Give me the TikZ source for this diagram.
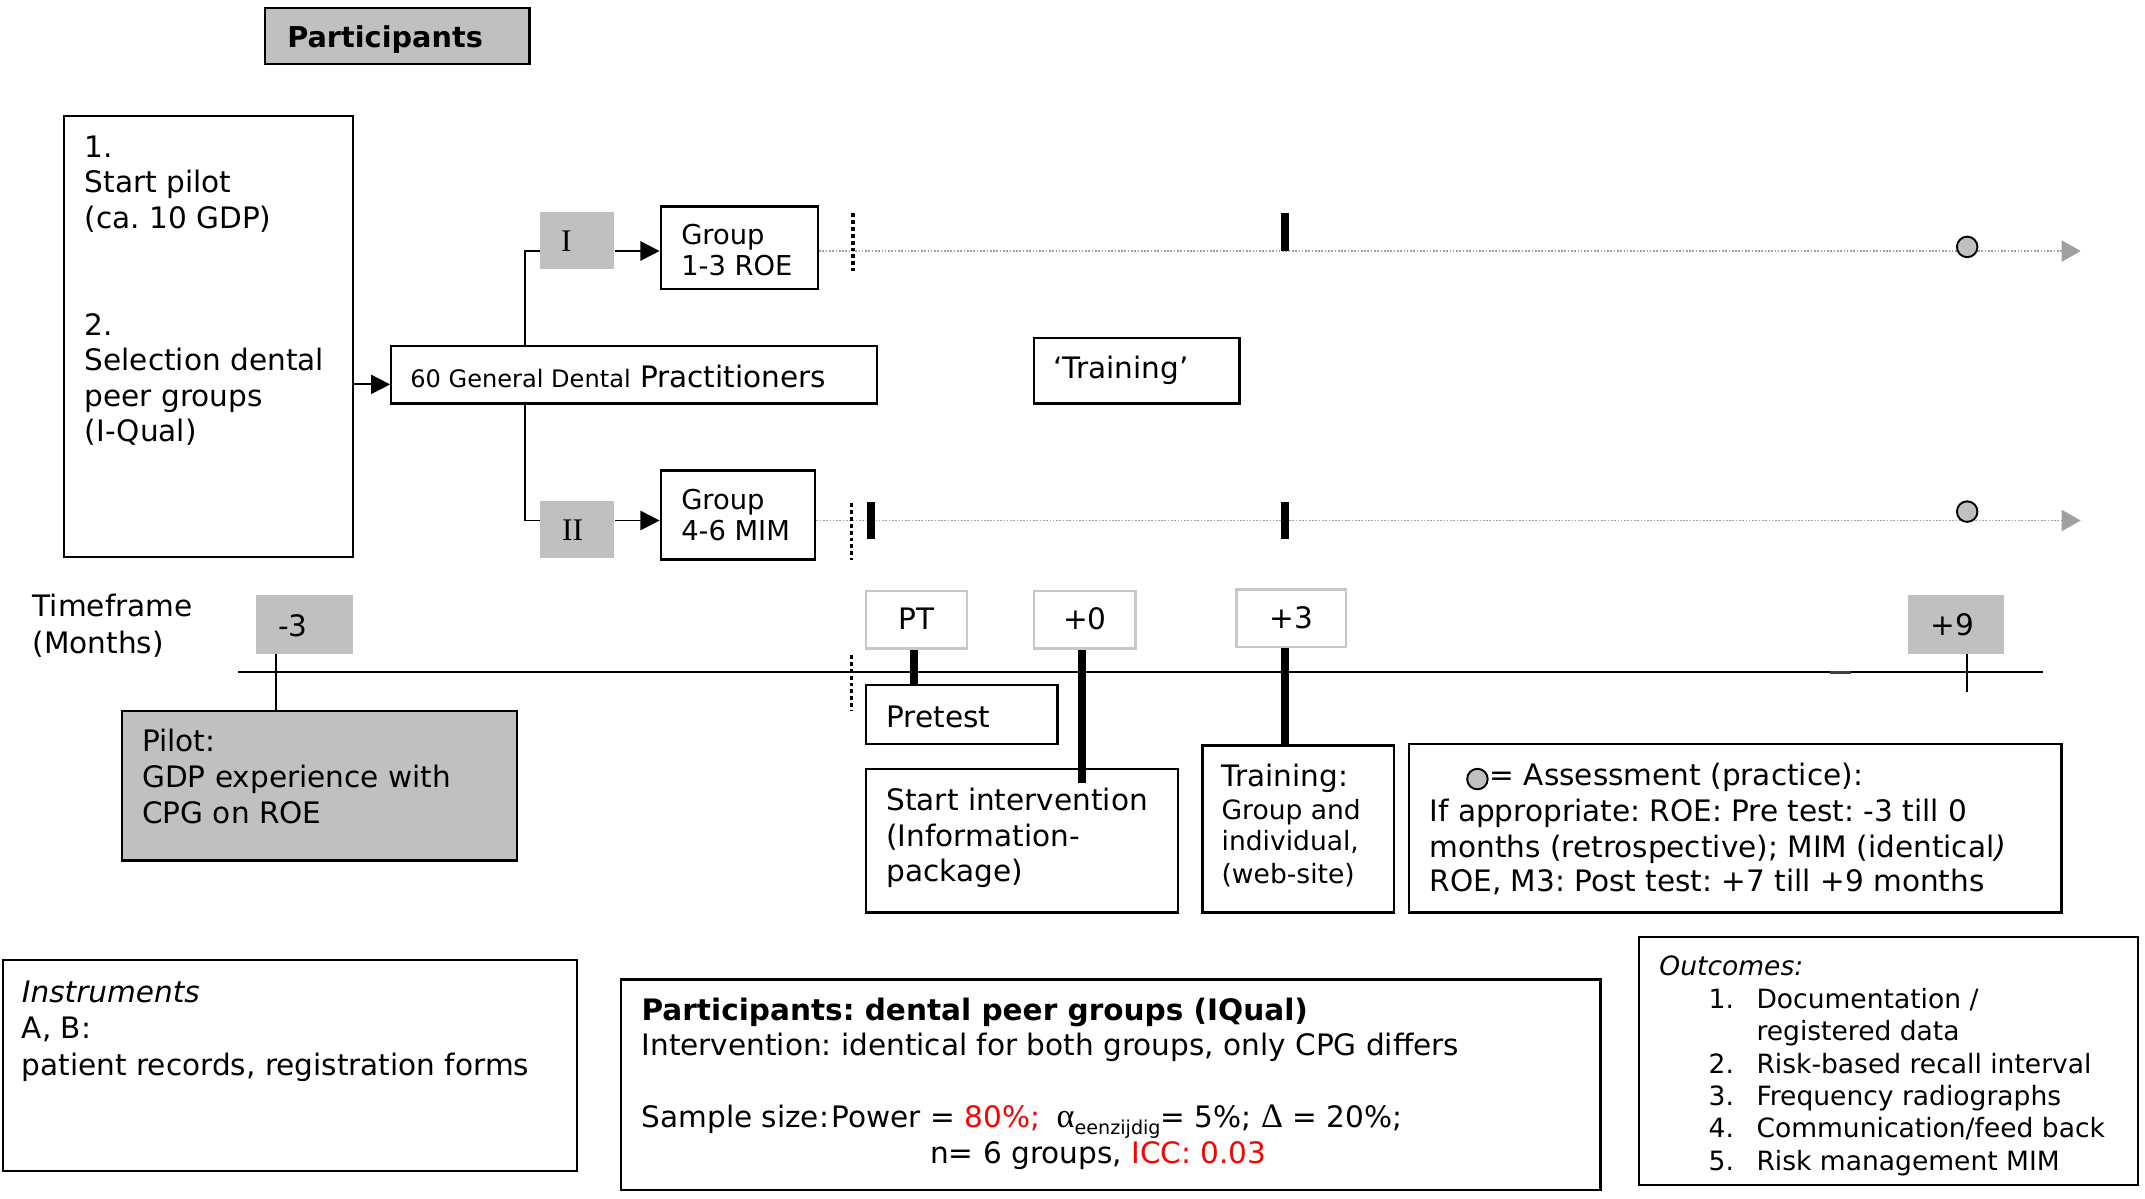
\documentclass[tikz,border=0pt]{standalone}
\usepackage{fontspec}
\setmainfont{DejaVu Sans}
\newfontfamily\serifgr{Liberation Serif}
\usetikzlibrary{arrows.meta}
\definecolor{silver}{HTML}{C0C0C0}
\definecolor{lightbd}{HTML}{C8C8C8}
\definecolor{trackgray}{HTML}{A0A0A0}
\frenchspacing
\newcommand\fL{\fontsize{10.8}{13}\selectfont}
\newcommand\fS{\fontsize{9.7}{11.8}\selectfont}
\newcommand\fG{\fontsize{10}{11.5}\selectfont}
\newcommand\fT{\fontsize{8.8}{10.5}\selectfont}
\newcommand\mkbox[6]{%
  \pgfmathsetmacro\bw{(#5-#3)*0.5}%
  \pgfmathsetmacro\bh{(#6-#4)*0.5}%
  \node[#2, minimum width=\bw pt, minimum height=\bh pt, inner sep=0pt] (#1) at ({(#3+#5)/2},{(#4+#6)/2}) {};}
\begin{document}
\begin{tikzpicture}[x=0.5pt,y=-0.5pt,
  box/.style={draw, line width=0.8pt, fill=white},
  graybox/.style={draw, line width=0.8pt, fill=silver},
  grayflat/.style={fill=silver},
  lightbox/.style={draw=lightbd, line width=0.9pt, fill=white},
  txt/.style={inner sep=0pt, outer sep=0pt, anchor=base west, font=\fL},
  stxt/.style={txt, font=\fS},
  ctxt/.style={inner sep=0pt, outer sep=0pt, anchor=base, font=\fL},
  conn/.style={line width=0.7pt},
  arr/.style={conn, -{Triangle[length=7pt,width=7pt]}},
  bar/.style={line width=2.9pt},
  vdots/.style={line width=1.3pt, dash pattern=on 1.4pt off 1.1pt},
  track/.style={draw=trackgray, line width=0.5pt, dash pattern=on 0.6pt off 0.6pt, -{Triangle[length=7pt,width=7.8pt,color=trackgray]}},
  thinln/.style={line width=0.6pt},
  dot/.style={circle, draw, line width=0.7pt, fill=silver, minimum size=7pt, inner sep=0pt}
]
\fill[white] (0,0) rectangle (1568,876);
\useasboundingbox (0,0) rectangle (1568,876);

% ---------- boxes ----------
\mkbox{partTop}{graybox}{194}{6}{387}{47}
\mkbox{leftbox}{box}{47}{85}{258}{407}
\mkbox{gdp}{box}{286}{253}{641}{295}
\mkbox{I}{grayflat}{395}{155}{449}{197}
\mkbox{grp1}{box}{483}{151}{598}{211}
\mkbox{II}{grayflat}{395}{366}{449}{408}
\mkbox{grp2}{box}{483}{344}{596}{409}
\mkbox{trainQ}{box}{756}{247}{906}{295}
\mkbox{m3}{grayflat}{187}{435}{258}{478}
\mkbox{pt}{lightbox}{633}{432}{707}{474}
\mkbox{p0}{lightbox}{756}{432}{830}{474}
\mkbox{p3}{lightbox}{904}{431}{984}{473}
\mkbox{p9}{grayflat}{1395}{435}{1465}{478}
\mkbox{pilot}{graybox}{89}{520}{378}{629}
\mkbox{pretest}{box}{633}{501}{773}{544}
\mkbox{startint}{box}{633}{562}{861}{667}
\mkbox{training}{box}{879}{545}{1019}{667}
\mkbox{assess}{box}{1030}{544}{1507}{667}
\mkbox{instr}{box}{2}{702}{422}{856}
\mkbox{partBig}{box}{454}{716}{1170}{870}
\mkbox{outc}{box}{1198}{685}{1563}{866}

% ---------- helper coordinates ----------
\coordinate (aY) at (0,281);
\coordinate (brX) at (384,0);
\coordinate (topY) at (0,183.5);
\coordinate (botY) at (0,380.5);
\coordinate (tipA) at (1521,183.5);
\coordinate (tipB) at (1521,380.5);
\coordinate (tlA) at (174,491.5);
\coordinate (tlB) at (1493.5,491.5);
\coordinate (siTop) at ([yshift=-5.5pt]startint.north);
\coordinate (p9end) at (1438,506);

% ---------- connectors ----------
\draw[arr] (leftbox.east |- aY) -- (gdp.west |- aY);
\draw[conn] (brX |- gdp.north) |- (I.west |- topY);
\draw[conn] (brX |- gdp.south) |- (II.west |- botY);
\draw[arr] (I.east |- topY) -- (grp1.west |- topY);
\draw[arr] (II.east |- botY) -- (grp2.west |- botY);

% tracks
\draw[track] (grp1.east |- topY) -- (tipA);
\draw[track] (grp2.east |- botY) -- (tipB);
\draw[vdots] (623.5,156) -- (623.5,198);
\draw[vdots] (622.5,368) -- (622.5,409);
\draw[bar] (939,156) -- (939,183.5);
\draw[bar] (939,367) -- (939,394);
\draw[bar] (636.5,367) -- (636.5,394);
\node[dot, minimum width=7pt, minimum height=7.5pt] (c1) at (1438,180.5) {};
\node[dot, minimum width=7pt, minimum height=7.5pt] (c2) at (1438,374) {};

% timeline
\draw[line width=0.8pt] (tlA) -- (tlB);
\draw[line width=1.2pt, black!75] (1338,491.5) -- (1353,491.5);
\draw[vdots] (622.5,479) -- (622.5,520);
\draw[thinln] ([xshift=7.5pt]m3.south west) -- ([xshift=7.5pt]m3.south west |- pilot.north);
\draw[bar] ([xshift=-1pt]pt.south) -- ([xshift=-1pt]pt.south |- pretest.north);
\draw[bar] ([xshift=-1pt]p0.south) -- ([xshift=-1pt]p0.south |- siTop);
\draw[bar] ([xshift=-2.5pt]p3.south) -- ([xshift=-2.5pt]p3.south |- training.north);
\draw[thinln] ([xshift=4pt]p9.south) -- (p9end);

% ---------- texts ----------
\node[txt, font=\fontsize{10.5}{12}\selectfont\bfseries] (tTitle) at (210,35) {Participants};

\node[txt] (l1) at (62,115) {1.};
\node[txt] (l2) at (62,141) {Start pilot};
\node[txt] (l3) at (62,167) {(ca. 10 GDP)};
\node[txt] (l4) at (62,245) {2.};
\node[txt] (l5) at (62,271) {Selection dental};
\node[txt] (l6) at (62,297) {peer groups};
\node[txt] (l7) at (62,323) {(I-Qual)};

\node[txt] (tGdp) at (300,283) {{\fT 60 General Dental} Practitioners};
\node[ctxt, font=\serifgr\fontsize{11.5}{13}\selectfont] (tI) at (414,184) {I};
\node[ctxt, font=\serifgr\fontsize{11.5}{13}\selectfont] (tII) at (418.5,395) {II};
\node[txt, font=\fG] (g1a) at (498,178.5) {Group};
\node[txt, font=\fG] (g1b) at (498,201.5) {1-3 ROE};
\node[txt, font=\fG] (g2a) at (498,372.5) {Group};
\node[txt, font=\fG] (g2b) at (498,395) {4-6 MIM};
\node[txt] (tTrQ) at (770,277) {‘Training’};

\node[txt] (tf1) at (24,451) {Timeframe};
\node[txt] (tf2) at (24,477.5) {(Months)};
\node[ctxt] (tm3) at (214,465.5) {-3};
\node[ctxt] (tpt) at (670,460.5) {PT};
\node[ctxt] (tp0) at (793,460.5) {+0};
\node[ctxt] (tp3) at (944,459.5) {+3};
\node[ctxt] (tp9) at (1427,464.5) {+9};

\node[txt] (pi1) at (104,549.5) {Pilot:};
\node[txt] (pi2) at (104,576) {GDP experience with};
\node[txt] (pi3) at (104,602) {CPG on ROE};
\node[txt] (tPre) at (648,531.5) {Pretest};
\node[txt] (si1) at (648,592.5) {Start intervention};
\node[txt] (si2) at (648,619) {(Information-};
\node[txt] (si3) at (648,644.5) {package)};
\node[txt] (tr1) at (893,575) {Training:};
\node[stxt] (tr2) at (893,599) {Group and};
\node[stxt] (tr3) at (893,622) {individual,};
\node[stxt] (tr4) at (893,645.5) {(web-site)};

\node[dot, minimum width=6.5pt, minimum height=7.5pt] (c3) at (1080,569.5) {};
\node[txt] (as1) at (1089,574) {= Assessment (practice):};
\node[txt] (as2) at (1045,600.5) {If appropriate: ROE: Pre test: -3 till 0};
\node[txt] (as3) at (1045,627) {months (retrospective); MIM (identical\textit{)}};
\node[txt] (as4) at (1045,652) {ROE, M3: Post test: +7 till +9 months};

\node[txt] (in1) at (16,733) {\textit{Instruments}};
\node[txt] (in2) at (16,759.5) {A, B:};
\node[txt] (in3) at (16,786) {patient records, registration forms};

\node[txt, font=\fL\bfseries] (pb1) at (469,746) {Participants: dental peer groups (IQual)};
\node[txt] (pb2) at (469,771.5) {Intervention: identical for both groups, only CPG differs};
\node[txt] (pb3) at (469,824) {Sample size:\hspace{1pt}Power = \textcolor{red}{80\%;}\hspace{6pt}{\serifgr\fontsize{12.5}{13}\selectfont α}\raisebox{-2.5pt}{\fontsize{7}{8}\selectfont eenzijdig}= 5\%; {\serifgr\fontsize{12.5}{13}\selectfont Δ} = 20\%;};
\node[txt] (pb4) at (680,850.5) {n= 6 groups, \textcolor{red}{ICC: 0.03}};

\node[stxt] (oc0) at (1213,713) {\textit{Outcomes:}};
\node[stxt] (on1) at (1249,737) {1.};
\node[stxt] (oc1) at (1284,737) {Documentation /};
\node[stxt] (oc1b) at (1284,760.5) {registered data};
\node[stxt] (on2) at (1249,785) {2.};
\node[stxt] (oc2) at (1284,785) {Risk-based recall interval};
\node[stxt] (on3) at (1249,808) {3.};
\node[stxt] (oc3) at (1284,808) {Frequency radiographs};
\node[stxt] (on4) at (1249,831.5) {4.};
\node[stxt] (oc4) at (1284,831.5) {Communication/feed back};
\node[stxt] (on5) at (1249,855.5) {5.};
\node[stxt] (oc5) at (1284,855.5) {Risk management MIM};
\end{tikzpicture}
\end{document}
